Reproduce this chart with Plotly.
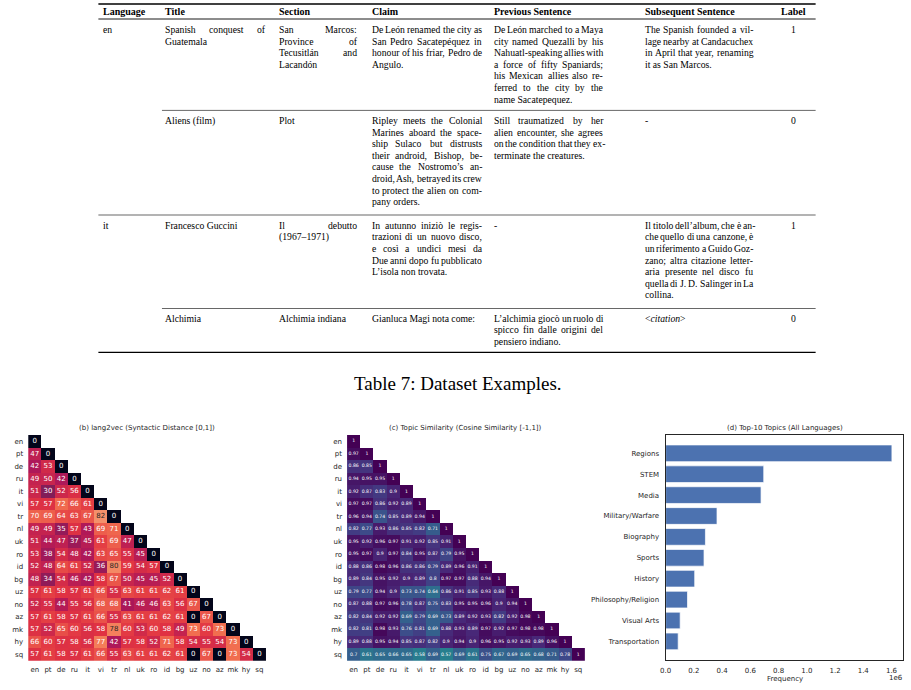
import plotly.graph_objects as go

W, H = 911, 690

# ---------------- data ----------------
langs = ["en", "pt", "de", "ru", "it", "vi", "tr", "nl", "uk", "ro", "id", "bg",
         "uz", "no", "az", "mk", "hy", "sq"]

syntactic_rows = [
    [0],
    [47, 0],
    [42, 53, 0],
    [49, 50, 42, 0],
    [51, 30, 52, 56, 0],
    [57, 57, 72, 66, 61, 0],
    [70, 69, 64, 63, 67, 82, 0],
    [49, 49, 35, 57, 43, 69, 71, 0],
    [51, 44, 47, 37, 45, 61, 69, 47, 0],
    [53, 38, 54, 48, 42, 63, 65, 55, 45, 0],
    [52, 48, 64, 61, 52, 36, 80, 59, 54, 57, 0],
    [48, 34, 54, 46, 42, 58, 67, 50, 45, 45, 52, 0],
    [57, 61, 58, 57, 61, 66, 55, 63, 61, 61, 62, 61, 0],
    [52, 55, 44, 55, 56, 68, 68, 41, 46, 46, 63, 56, 67, 0],
    [57, 61, 58, 57, 61, 66, 55, 63, 61, 61, 62, 61, 0, 67, 0],
    [57, 52, 65, 60, 56, 58, 78, 60, 53, 60, 58, 49, 73, 60, 73, 0],
    [66, 60, 57, 58, 56, 77, 42, 57, 58, 52, 71, 58, 54, 55, 54, 73, 0],
    [57, 61, 58, 57, 61, 66, 55, 63, 61, 61, 62, 61, 0, 67, 0, 73, 54, 0],
]

topic_sim_rows = [
    [1],
    [0.97, 1],
    [0.86, 0.85, 1],
    [0.94, 0.95, 0.95, 1],
    [0.92, 0.87, 0.83, 0.9, 1],
    [0.97, 0.97, 0.86, 0.92, 0.89, 1],
    [0.96, 0.94, 0.74, 0.85, 0.89, 0.94, 1],
    [0.82, 0.77, 0.93, 0.86, 0.85, 0.82, 0.71, 1],
    [0.95, 0.92, 0.96, 0.97, 0.91, 0.92, 0.85, 0.91, 1],
    [0.95, 0.97, 0.9, 0.97, 0.84, 0.95, 0.87, 0.79, 0.95, 1],
    [0.88, 0.86, 0.98, 0.96, 0.86, 0.86, 0.79, 0.89, 0.96, 0.91, 1],
    [0.89, 0.84, 0.95, 0.92, 0.9, 0.89, 0.8, 0.97, 0.97, 0.88, 0.94, 1],
    [0.79, 0.77, 0.94, 0.9, 0.73, 0.74, 0.64, 0.86, 0.91, 0.85, 0.93, 0.88, 1],
    [0.87, 0.88, 0.97, 0.96, 0.78, 0.87, 0.75, 0.83, 0.95, 0.95, 0.96, 0.9, 0.94, 1],
    [0.82, 0.84, 0.92, 0.92, 0.69, 0.79, 0.69, 0.73, 0.89, 0.92, 0.93, 0.82, 0.92, 0.98, 1],
    [0.82, 0.81, 0.98, 0.93, 0.76, 0.81, 0.69, 0.88, 0.93, 0.89, 0.97, 0.92, 0.97, 0.98, 0.98, 1],
    [0.89, 0.88, 0.95, 0.94, 0.85, 0.87, 0.82, 0.9, 0.94, 0.9, 0.96, 0.95, 0.92, 0.93, 0.89, 0.96, 1],
    [0.7, 0.61, 0.65, 0.66, 0.65, 0.58, 0.69, 0.57, 0.69, 0.61, 0.75, 0.67, 0.69, 0.65, 0.68, 0.71, 0.78, 1],
]

topics = ["Regions", "STEM", "Media", "Military/Warfare", "Biography", "Sports",
          "History", "Philosophy/Religion", "Visual Arts", "Transportation"]
topic_freq = [1603000, 695000, 676000, 364000, 282000, 272000, 206000, 155000, 103000, 89000]
freq_ticks = [0.0, 0.2, 0.4, 0.6, 0.8, 1.0, 1.2, 1.4, 1.6]

table_headers = ["Language", "Title", "Section", "Claim", "Previous Sentence",
                 "Subsequent Sentence", "Label"]
table_rows = [
    dict(lang="en", label="1",
         title=["Spanish conquest of", "Guatemala"],
         section=["San Marcos:", "Province of", "Tecusitlán and", "Lacandón"],
         claim=["De León renamed the city as", "San Pedro Sacatepéquez in",
                "honour of his friar, Pedro de", "Angulo."],
         prev=["De León marched to a Maya", "city named Quezalli by his",
               "Nahuatl-speaking allies with", "a force of fifty Spaniards;",
               "his Mexican allies also re-", "ferred to the city by the",
               "name Sacatepequez."],
         subs=["The Spanish founded a vil-", "lage nearby at Candacuchex",
               "in April that year, renaming", "it as San Marcos."]),
    dict(lang="", label="0",
         title=["Aliens (film)"],
         section=["Plot"],
         claim=["Ripley meets the Colonial", "Marines aboard the space-",
                "ship Sulaco but distrusts", "their android, Bishop, be-",
                "cause the Nostromo’s an-", "droid, Ash, betrayed its crew",
                "to protect the alien on com-", "pany orders."],
         prev=["Still traumatized by her", "alien encounter, she agrees",
               "on the condition that they ex-", "terminate the creatures."],
         subs=["-"]),
    dict(lang="it", label="1",
         title=["Francesco Guccini"],
         section=["Il debutto", "(1967–1971)"],
         claim=["In autunno iniziò le regis-", "trazioni di un nuovo disco,",
                "e così a undici mesi da", "Due anni dopo fu pubblicato",
                "L’isola non trovata."],
         prev=["-"],
         subs=["Il titolo dell’album, che è an-", "che quello di una canzone, è",
               "un riferimento a Guido Goz-", "zano; altra citazione letter-",
               "aria presente nel disco fu", "quella di J. D. Salinger in La",
               "collina."]),
    dict(lang="", label="0",
         title=["Alchimia"],
         section=["Alchimia indiana"],
         claim=["Gianluca Magi nota come:"],
         prev=["L’alchimia giocò un ruolo di", "spicco fin dalle origini del",
               "pensiero indiano."],
         subs=["&lt;<i>citation</i>&gt;"]),
]
caption = "Table 7: Dataset Examples."

# ---------------- helpers ----------------
def px(x):
    return x / W

def py(y):
    return 1 - y / H

TW = {}
TW.update(dict(zip("abcdefghijklmnopqrstuvwxyz",
                   [444, 500, 444, 500, 444, 333, 500, 500, 278, 278, 500, 278, 778,
                    500, 500, 500, 500, 333, 389, 278, 500, 500, 722, 500, 500, 444])))
TW.update(dict(zip("ABCDEFGHIJKLMNOPQRSTUVWXYZ",
                   [722, 667, 667, 722, 611, 556, 722, 722, 333, 389, 722, 611, 889,
                    722, 722, 556, 722, 667, 556, 611, 722, 722, 944, 722, 722, 611])))
TW.update({c: 500 for c in "0123456789"})
TW.update({" ": 250, ",": 250, ".": 250, ":": 278, ";": 278, "-": 333, "(": 333,
           ")": 333, "’": 333, "–": 500, "é": 444, "è": 444, "ì": 278, "ò": 500,
           "ó": 500, "á": 444, "à": 444, "ù": 500})

def text_w(s, fs):
    return sum(TW.get(c, 500) for c in s) * fs / 1000.0

annotations = []
shapes = []

SERIF = "Liberation Serif, Times New Roman, serif"
SANS = "DejaVu Sans, sans-serif"
INK = "#262626"

def add_text(x, y, txt, size, family, color="black", xanchor="left"):
    annotations.append(dict(x=px(x), y=py(y), xref="paper", yref="paper", text=txt,
                            showarrow=False, xanchor=xanchor, yanchor="middle",
                            borderpad=0, borderwidth=0,
                            font=dict(size=size, family=family, color=color)))

def add_rule(x0, x1, y, w):
    shapes.append(dict(type="line", xref="paper", yref="paper", x0=px(x0), x1=px(x1),
                       y0=py(y), y1=py(y), line=dict(color="black", width=w)))

# ---------------- table ----------------
FS = 9.7
LH = 11.6
col_x = {"title": (160, 261), "section": (275, 353), "claim": (368, 479),
         "prev": (491, 601), "subs": (643, 752)}
header_x = [98, 160, 275, 368, 491, 643, 780]
for hx, h in zip(header_x, table_headers):
    add_text(hx, 11.5, "<b>" + h + "</b>", FS + 0.3, SERIF)

def put_cell(lines, x0, x1, y0):
    for k, line in enumerate(lines):
        y = y0 + k * LH
        words = line.split(" ")
        last = (k == len(lines) - 1)
        if last or len(words) < 2 or "&" in line:
            add_text(x0, y, line, FS, SERIF)
            continue
        widths = [text_w(w_, FS) for w_ in words]
        gap = (x1 - x0 - sum(widths)) / (len(words) - 1)
        gap = max(gap, 0.85 * text_w(" ", FS))
        cx = x0
        for w_, ww in zip(words, widths):
            add_text(cx, y, w_, FS, SERIF)
            cx += ww + gap

row_start = [29.5, 120.5, 225.2, 318.2]
for r, y0 in zip(table_rows, row_start):
    if r["lang"]:
        add_text(98, y0, r["lang"], FS, SERIF)
    for key in ["title", "section", "claim", "prev", "subs"]:
        put_cell(r[key], col_x[key][0], col_x[key][1], y0)
    add_text(793, y0, r["label"], FS, SERIF, xanchor="center")

add_rule(93, 815, 4, 1.4)
add_rule(93, 815, 19, 0.9)
add_rule(157, 815, 110.4, 0.6)
add_rule(93, 815, 215, 0.6)
add_rule(157, 815, 308.5, 0.6)
add_rule(93, 815, 352.4, 1.4)

add_text(455, 383, caption, 19, SERIF, xanchor="center")

# ---------------- heatmaps ----------------
n = len(langs)
z_syn = [[(syntactic_rows[i][j] if j <= i else None) for j in range(n)] for i in range(n)]
z_top = [[(topic_sim_rows[i][j] if j <= i else None) for j in range(n)] for i in range(n)]

rocket = [[0.0, "#03051a"], [0.083, "#35193e"], [0.25, "#701f57"], [0.417, "#ad1759"],
          [0.583, "#e13342"], [0.75, "#f37651"], [0.917, "#f6b48f"], [1.0, "#faebdd"]]

fig = go.Figure()
fig.add_trace(go.Heatmap(z=z_syn, x=langs, y=langs, colorscale=rocket, zmin=0, zmax=100,
                         showscale=False, hoverinfo="skip", xaxis="x", yaxis="y"))
fig.add_trace(go.Heatmap(z=z_top, x=langs, y=langs, colorscale="Viridis", reversescale=True,
                         zmin=0, zmax=1, showscale=False, hoverinfo="skip",
                         xaxis="x2", yaxis="y2"))

# annotations in cells
for dark in (False, True):
    xs, ys, ts = [], [], []
    for i in range(n):
        for j in range(i + 1):
            v = syntactic_rows[i][j]
            if (v >= 78) == dark:
                xs.append(langs[j]); ys.append(langs[i]); ts.append(str(v))
    fig.add_trace(go.Scatter(x=xs, y=ys, text=ts, mode="text", hoverinfo="skip",
                             textposition="middle center",
                             textfont=dict(size=7, family=SANS,
                                           color=INK if dark else "white"),
                             xaxis="x", yaxis="y"))

xs, ys, ts = [], [], []
for i in range(n):
    for j in range(i + 1):
        xs.append(langs[j]); ys.append(langs[i]); ts.append(f"{topic_sim_rows[i][j]:g}")
fig.add_trace(go.Scatter(x=xs, y=ys, text=ts, mode="text", hoverinfo="skip",
                         textposition="middle center",
                         textfont=dict(size=4.6, family=SANS, color="white"),
                         xaxis="x2", yaxis="y2"))

# ---------------- bar chart ----------------
fig.add_trace(go.Bar(x=[f / 1e6 for f in topic_freq], y=topics, orientation="h",
                     marker=dict(color="#4c72b0", line=dict(color="white", width=0.7)),
                     hoverinfo="skip", xaxis="x3", yaxis="y3"))

tickfont = dict(size=7, family=SANS, color=INK)
hm_x = dict(type="category", categoryorder="array", categoryarray=langs,
            range=[-0.5, n - 0.5], showgrid=False, zeroline=False, ticks="",
            showline=False, tickfont=tickfont, ticklabelstandoff=3)
hm_y = dict(type="category", categoryorder="array", categoryarray=langs,
            range=[n - 0.5, -0.5], showgrid=False, zeroline=False, ticks="",
            showline=False, tickfont=tickfont, ticklabelstandoff=4)

fig.update_layout(
    width=W, height=H, margin=dict(l=0, r=0, t=0, b=0),
    paper_bgcolor="white", plot_bgcolor="white", showlegend=False, bargap=0.2,
    xaxis=dict(hm_x, domain=[px(22.3), px(261.7)], anchor="y"),
    yaxis=dict(hm_y, domain=[py(660.7), py(435)], anchor="x"),
    xaxis2=dict(hm_x, domain=[px(343.3), px(582.7)], anchor="y2"),
    yaxis2=dict(hm_y, domain=[py(660.7), py(435)], anchor="x2"),
    xaxis3=dict(domain=[px(664), px(903.3)], anchor="y3", range=[0, 1.684],
                tickvals=freq_ticks, ticktext=[f"{t:.1f}" for t in freq_ticks],
                showgrid=False, zeroline=False, ticks="", showline=True, mirror=True,
                linecolor=INK, linewidth=1.25, tickfont=tickfont, ticklabelstandoff=3),
    yaxis3=dict(domain=[py(660), py(434.7)], anchor="x3", type="category",
                categoryorder="array", categoryarray=topics,
                range=[len(topics) - 1 + 0.89, -0.89],
                showgrid=False, zeroline=False, ticks="", showline=True, mirror=True,
                linecolor=INK, linewidth=1.25, tickfont=tickfont, ticklabelstandoff=4),
)

# subplot titles & labels
add_text(142, 428, "(b) lang2vec (Syntactic Distance [0,1])", 7, SANS, INK, "center")
add_text(463, 428, "(c) Topic Similarity (Cosine Similarity [-1,1])", 7, SANS, INK, "center")
add_text(783.7, 428, "(d) Top-10 Topics (All Languages)", 7, SANS, INK, "center")
add_text(784, 678.5, "Frequency", 7, SANS, INK, "center")
add_text(903.3, 677.5, "1e6", 7, SANS, INK, "right")

fig.update_layout(annotations=annotations, shapes=shapes)
fig.write_html("out.html")
